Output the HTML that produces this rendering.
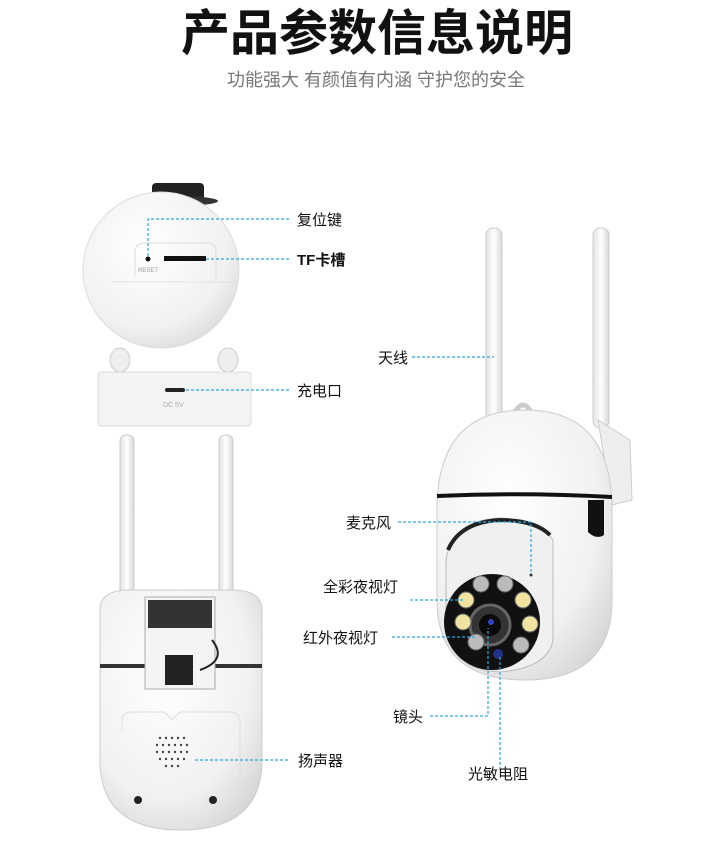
<!DOCTYPE html>
<html><head><meta charset="utf-8"><style>
html,body{margin:0;padding:0;background:#fff;}
svg{display:block;font-family:"Liberation Sans","Noto Sans CJK SC",sans-serif;}
</style></head><body>
<svg width="714" height="849" viewBox="0 0 714 849" xmlns="http://www.w3.org/2000/svg">
<defs>
<radialGradient id="w" cx="0.4" cy="0.35" r="0.75"><stop offset="0" stop-color="#ffffff"/><stop offset="0.7" stop-color="#f1f1f1"/><stop offset="1" stop-color="#d6d6d6"/></radialGradient>
<linearGradient id="ant" x1="0" x2="1"><stop offset="0" stop-color="#e2e2e2"/><stop offset="0.5" stop-color="#fff"/><stop offset="1" stop-color="#d8d8d8"/></linearGradient>
</defs>
<text x="377" y="50" text-anchor="middle" font-size="49" font-weight="bold" fill="#111">产品参数信息说明</text>
<text x="376" y="86" text-anchor="middle" font-size="18" fill="#777">功能强大 有颜值有内涵 守护您的安全</text>

<!-- top-left camera -->
<rect x="152" y="183" width="52" height="22" rx="4" fill="#222"/>
<ellipse cx="178" cy="201" rx="40" ry="5" fill="#333"/>
<circle cx="161" cy="270" r="78" fill="url(#w)" stroke="#ddd"/>
<path d="M135 277 L135 252 Q135 243 145 243 L207 243 Q216 243 216 252 L216 282" fill="none" stroke="#ddd"/>
<line x1="112" y1="282" x2="236" y2="282" stroke="#e2e2e2"/>
<circle cx="148" cy="259" r="2.5" fill="#111"/>
<text x="138" y="272" font-size="6" fill="#999">RESET</text>
<rect x="164" y="256" width="42" height="5" fill="#111"/>
<ellipse cx="120" cy="360" rx="10" ry="12" fill="#eee" stroke="#ccc"/>
<ellipse cx="228" cy="360" rx="10" ry="12" fill="#eee" stroke="#ccc"/>
<rect x="98" y="372" width="153" height="54" rx="3" fill="#f3f3f3" stroke="#ddd"/>
<rect x="165" y="388" width="20" height="4" rx="2" fill="#222"/>
<text x="163" y="407" font-size="7" fill="#aaa">DC 5V</text>

<!-- bottom-left camera -->
<rect x="120" y="435" width="14" height="165" rx="6" fill="url(#ant)" stroke="#ccc"/>
<rect x="219" y="435" width="14" height="165" rx="6" fill="url(#ant)" stroke="#ccc"/>
<path d="M100 610 Q100 590 130 590 L232 590 Q262 590 262 610 L262 760 Q262 830 181 830 Q100 830 100 760 Z" fill="url(#w)" stroke="#ccc"/>
<rect x="100" y="664" width="162" height="4" fill="#333"/>
<rect x="145" y="597" width="70" height="92" fill="#f4f4f4" stroke="#aaa"/>
<rect x="148" y="600" width="64" height="28" fill="#333"/>
<rect x="165" y="655" width="28" height="30" fill="#222"/>
<path d="M212 640 Q228 660 200 670" fill="none" stroke="#222" stroke-width="2"/>
<path d="M122 730 L122 722 Q122 712 132 712 L165 712 L172 720 L180 712 L230 712 Q240 712 240 722 L240 790" fill="none" stroke="#ddd"/>
<g fill="#444">
<circle cx="160" cy="738" r="1.2"/><circle cx="166" cy="738" r="1.2"/><circle cx="172" cy="738" r="1.2"/><circle cx="178" cy="738" r="1.2"/><circle cx="184" cy="738" r="1.2"/>
<circle cx="157" cy="745" r="1.2"/><circle cx="163" cy="745" r="1.2"/><circle cx="169" cy="745" r="1.2"/><circle cx="175" cy="745" r="1.2"/><circle cx="181" cy="745" r="1.2"/><circle cx="187" cy="745" r="1.2"/>
<circle cx="157" cy="752" r="1.2"/><circle cx="163" cy="752" r="1.2"/><circle cx="169" cy="752" r="1.2"/><circle cx="175" cy="752" r="1.2"/><circle cx="181" cy="752" r="1.2"/><circle cx="187" cy="752" r="1.2"/>
<circle cx="160" cy="759" r="1.2"/><circle cx="166" cy="759" r="1.2"/><circle cx="172" cy="759" r="1.2"/><circle cx="178" cy="759" r="1.2"/><circle cx="184" cy="759" r="1.2"/>
<circle cx="166" cy="766" r="1.2"/><circle cx="172" cy="766" r="1.2"/><circle cx="178" cy="766" r="1.2"/>
</g>
<circle cx="138" cy="800" r="4" fill="#222"/>
<circle cx="213" cy="800" r="4" fill="#222"/>

<!-- right camera -->
<rect x="486" y="228" width="16" height="195" rx="7" fill="url(#ant)" stroke="#ccc"/>
<rect x="593" y="228" width="16" height="200" rx="7" fill="url(#ant)" stroke="#ccc"/>
<path d="M598 420 L630 440 L632 500 L612 505 Z" fill="#eee" stroke="#ccc"/>
<path d="M515 412 Q523 398 531 412" fill="none" stroke="#ccc" stroke-width="5"/>
<path d="M437 510 Q437 410 525 410 Q612 410 612 510 L612 600 Q612 680 525 680 Q437 680 437 600 Z" fill="url(#w)" stroke="#ccc"/>
<path d="M437 496 Q525 492 612 497" stroke="#111" stroke-width="4" fill="none"/>
<path d="M588 500 L604 500 L604 535 Q596 540 588 532 Z" fill="#111"/>
<path d="M446 560 Q452 520 500 518 Q540 520 553 540 L553 640 Q548 668 500 672 Q448 670 446 620 Z" fill="#f0f0f0" stroke="#bbb"/>
<path d="M448 550 Q460 522 500 520 Q535 520 550 535" stroke="#222" stroke-width="4" fill="none"/>
<circle cx="531" cy="575" r="1.5" fill="#333"/>
<circle cx="492" cy="622" r="48" fill="#111"/>
<circle cx="490" cy="625" r="20" fill="#333" stroke="#666" stroke-width="3"/>
<circle cx="490" cy="625" r="11" fill="#0a0a0a"/>
<circle cx="491" cy="622" r="3" fill="#3344cc"/>
<circle cx="498" cy="654" r="5" fill="#22308a"/>
<g fill="#bbb" stroke="#666">
<circle cx="481" cy="584" r="8"/><circle cx="505" cy="584" r="8"/>
<circle cx="466" cy="600" r="8" fill="#f0e4a0"/><circle cx="523" cy="600" r="8" fill="#f0e4a0"/>
<circle cx="463" cy="622" r="8" fill="#f0e4a0"/><circle cx="530" cy="624" r="8" fill="#f0e4a0"/>
<circle cx="476" cy="642" r="8"/><circle cx="521" cy="645" r="8"/>
</g>

<g stroke="#2aa7e6" stroke-width="1.2" stroke-dasharray="3,2" fill="none">
<path d="M148 256 V219 H290"/>
<path d="M206 259 H290"/>
<path d="M186 390 H290"/>
<path d="M195 760 H290"/>
<path d="M412 357 H494"/>
<path d="M398 522 H531 V572"/>
<path d="M410 600 H465"/>
<path d="M392 637 H475"/>
<path d="M430 716 H488 V628"/>
<path d="M500 770 V655"/>
</g>
<g font-size="15" fill="#111">
<text x="297" y="225">复位键</text>
<text x="297" y="265" font-weight="bold">TF卡槽</text>
<text x="297" y="396">充电口</text>
<text x="298" y="766">扬声器</text>
<text x="378" y="363">天线</text>
<text x="346" y="528">麦克风</text>
<text x="323" y="592">全彩夜视灯</text>
<text x="303" y="643">红外夜视灯</text>
<text x="393" y="722">镜头</text>
<text x="468" y="779">光敏电阻</text>
</g>
</svg>
</body></html>
